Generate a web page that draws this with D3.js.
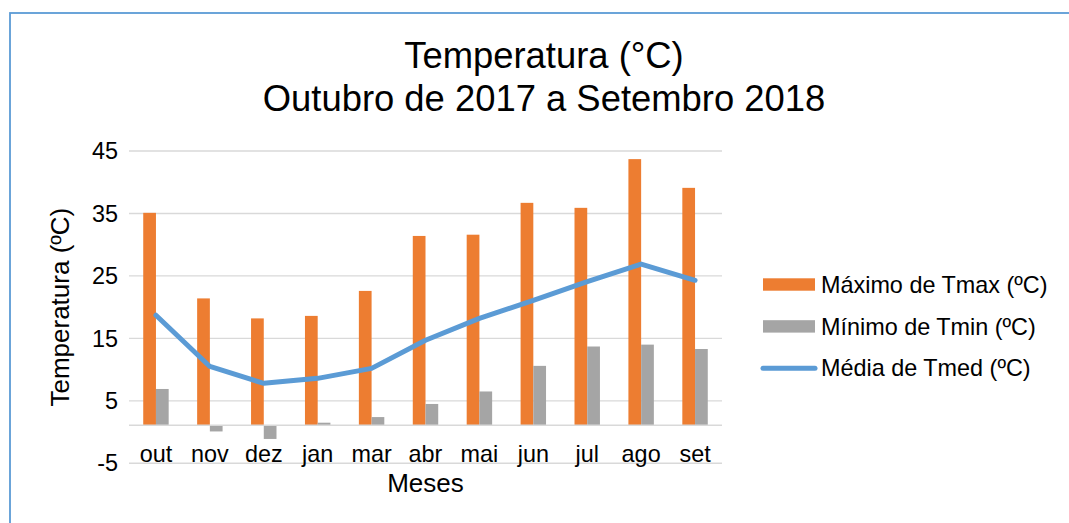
<!DOCTYPE html>
<html>
<head>
<meta charset="utf-8">
<script src="https://cdn.jsdelivr.net/npm/d3@7"></script>
<style>
  body { margin: 0; background: #fff; }
  svg { display: block; font-family: "Liberation Sans", Arial, sans-serif; }
</style>
</head>
<body>
<div id="chart"></div>
<script>
// chart data
const months = ["out", "nov", "dez", "jan", "mar", "abr", "mai", "jun", "jul", "ago", "set"];
const tmax = [35.1, 21.4, 18.2, 18.6, 22.6, 31.4, 31.6, 36.7, 35.9, 43.7, 39.1];
const tmin = [6.9, 0.1, -1.1, 1.5, 2.4, 4.5, 6.5, 10.6, 13.7, 14.0, 13.3];
const tmed = [18.7, 10.5, 7.8, 8.6, 10.2, 14.7, 18.2, 21.1, 24.1, 26.9, 24.3];
const yTicks = [-5, 5, 15, 25, 35, 45];
const seriesNames = ["Máximo de Tmax (ºC)", "Mínimo de Tmin (ºC)", "Média de Tmed (ºC)"];
const axisCross = 1.1; // where the category axis crosses the value axis

const width = 1069, height = 523;
const colors = { max: "#ed7d31", min: "#a5a5a5", med: "#5b9bd5" };

const svg = d3.select("#chart").append("svg")
  .attr("width", width)
  .attr("height", height);

// outer frame (runs off the right and bottom edge)
svg.append("rect")
  .attr("x", 10).attr("y", 13)
  .attr("width", 1200).attr("height", 700)
  .attr("fill", "none")
  .attr("stroke", colors.med)
  .attr("stroke-width", 1.8);

// title
const title = svg.append("text")
  .attr("text-anchor", "middle")
  .attr("font-size", 36.4)
  .attr("fill", "#000");
title.append("tspan").attr("x", 544).attr("y", 68).text("Temperatura (°C)");
title.append("tspan").attr("x", 544).attr("y", 111).text("Outubro de 2017 a Setembro 2018");

const plot = { left: 129, right: 722, top: 151, bottom: 463.3 };

const x = d3.scaleBand()
  .domain(months)
  .range([plot.left, plot.right]);

const y = d3.scaleLinear()
  .domain([-5, 45])
  .range([plot.bottom, plot.top]);

const barW = x.bandwidth() * 0.236;
const xs = d3.scaleBand()
  .domain(["max", "min"])
  .range([x.bandwidth() / 2 - barW, x.bandwidth() / 2 + barW]);

// gridlines
svg.append("g")
  .selectAll("line")
  .data(yTicks)
  .join("line")
  .attr("x1", plot.left).attr("x2", plot.right)
  .attr("y1", d => y(d)).attr("y2", d => y(d))
  .attr("stroke", "#d9d9d9")
  .attr("stroke-width", 1.4);

// y tick labels
svg.append("g")
  .selectAll("text")
  .data(yTicks)
  .join("text")
  .attr("x", 118)
  .attr("y", d => y(d))
  .attr("dy", "0.35em")
  .attr("text-anchor", "end")
  .attr("font-size", 23.4)
  .text(d => d);

// bars
const bars = svg.append("g");
bars.selectAll("rect.max")
  .data(tmax)
  .join("rect")
  .attr("class", "max")
  .attr("x", (d, i) => x(months[i]) + xs("max"))
  .attr("width", xs.bandwidth())
  .attr("y", d => y(Math.max(d, axisCross)))
  .attr("height", d => Math.abs(y(d) - y(axisCross)))
  .attr("fill", colors.max);

bars.selectAll("rect.min")
  .data(tmin)
  .join("rect")
  .attr("class", "min")
  .attr("x", (d, i) => x(months[i]) + xs("min"))
  .attr("width", xs.bandwidth())
  .attr("y", d => y(Math.max(d, axisCross)))
  .attr("height", d => Math.abs(y(d) - y(axisCross)))
  .attr("fill", colors.min);

// category axis line
svg.append("line")
  .attr("x1", plot.left).attr("x2", plot.right)
  .attr("y1", y(axisCross)).attr("y2", y(axisCross))
  .attr("stroke", "#d9d9d9")
  .attr("stroke-width", 1.4);

// average line
const line = d3.line()
  .x((d, i) => x(months[i]) + x.bandwidth() / 2)
  .y(d => y(d));

svg.append("path")
  .datum(tmed)
  .attr("d", line)
  .attr("fill", "none")
  .attr("stroke", colors.med)
  .attr("stroke-width", 5)
  .attr("stroke-linejoin", "round")
  .attr("stroke-linecap", "round");

// month labels
svg.append("g")
  .selectAll("text")
  .data(months)
  .join("text")
  .attr("x", d => x(d) + x.bandwidth() / 2)
  .attr("y", 462)
  .attr("text-anchor", "middle")
  .attr("font-size", 23.4)
  .text(d => d);

// axis titles
svg.append("text")
  .attr("x", (plot.left + plot.right) / 2)
  .attr("y", 492)
  .attr("text-anchor", "middle")
  .attr("font-size", 26)
  .text("Meses");

svg.append("text")
  .attr("transform", `translate(68.5,${(plot.top + plot.bottom) / 2}) rotate(-90)`)
  .attr("text-anchor", "middle")
  .attr("font-size", 26)
  .text("Temperatura (ºC)");

// legend
const legend = svg.append("g").attr("transform", "translate(763,284.5)");
const rowH = 41.9;
["max", "min"].forEach((k, i) => {
  legend.append("rect")
    .attr("x", 0).attr("y", i * rowH - 6.2)
    .attr("width", 52).attr("height", 12.4)
    .attr("fill", colors[k]);
});
legend.append("line")
  .attr("x1", 0).attr("x2", 52)
  .attr("y1", 2 * rowH).attr("y2", 2 * rowH)
  .attr("stroke", colors.med)
  .attr("stroke-width", 5)
  .attr("stroke-linecap", "round");
legend.selectAll("text")
  .data(seriesNames)
  .join("text")
  .attr("x", 58)
  .attr("y", (d, i) => i * rowH)
  .attr("dy", "0.35em")
  .attr("font-size", 23.4)
  .text(d => d);
</script>
</body>
</html>
